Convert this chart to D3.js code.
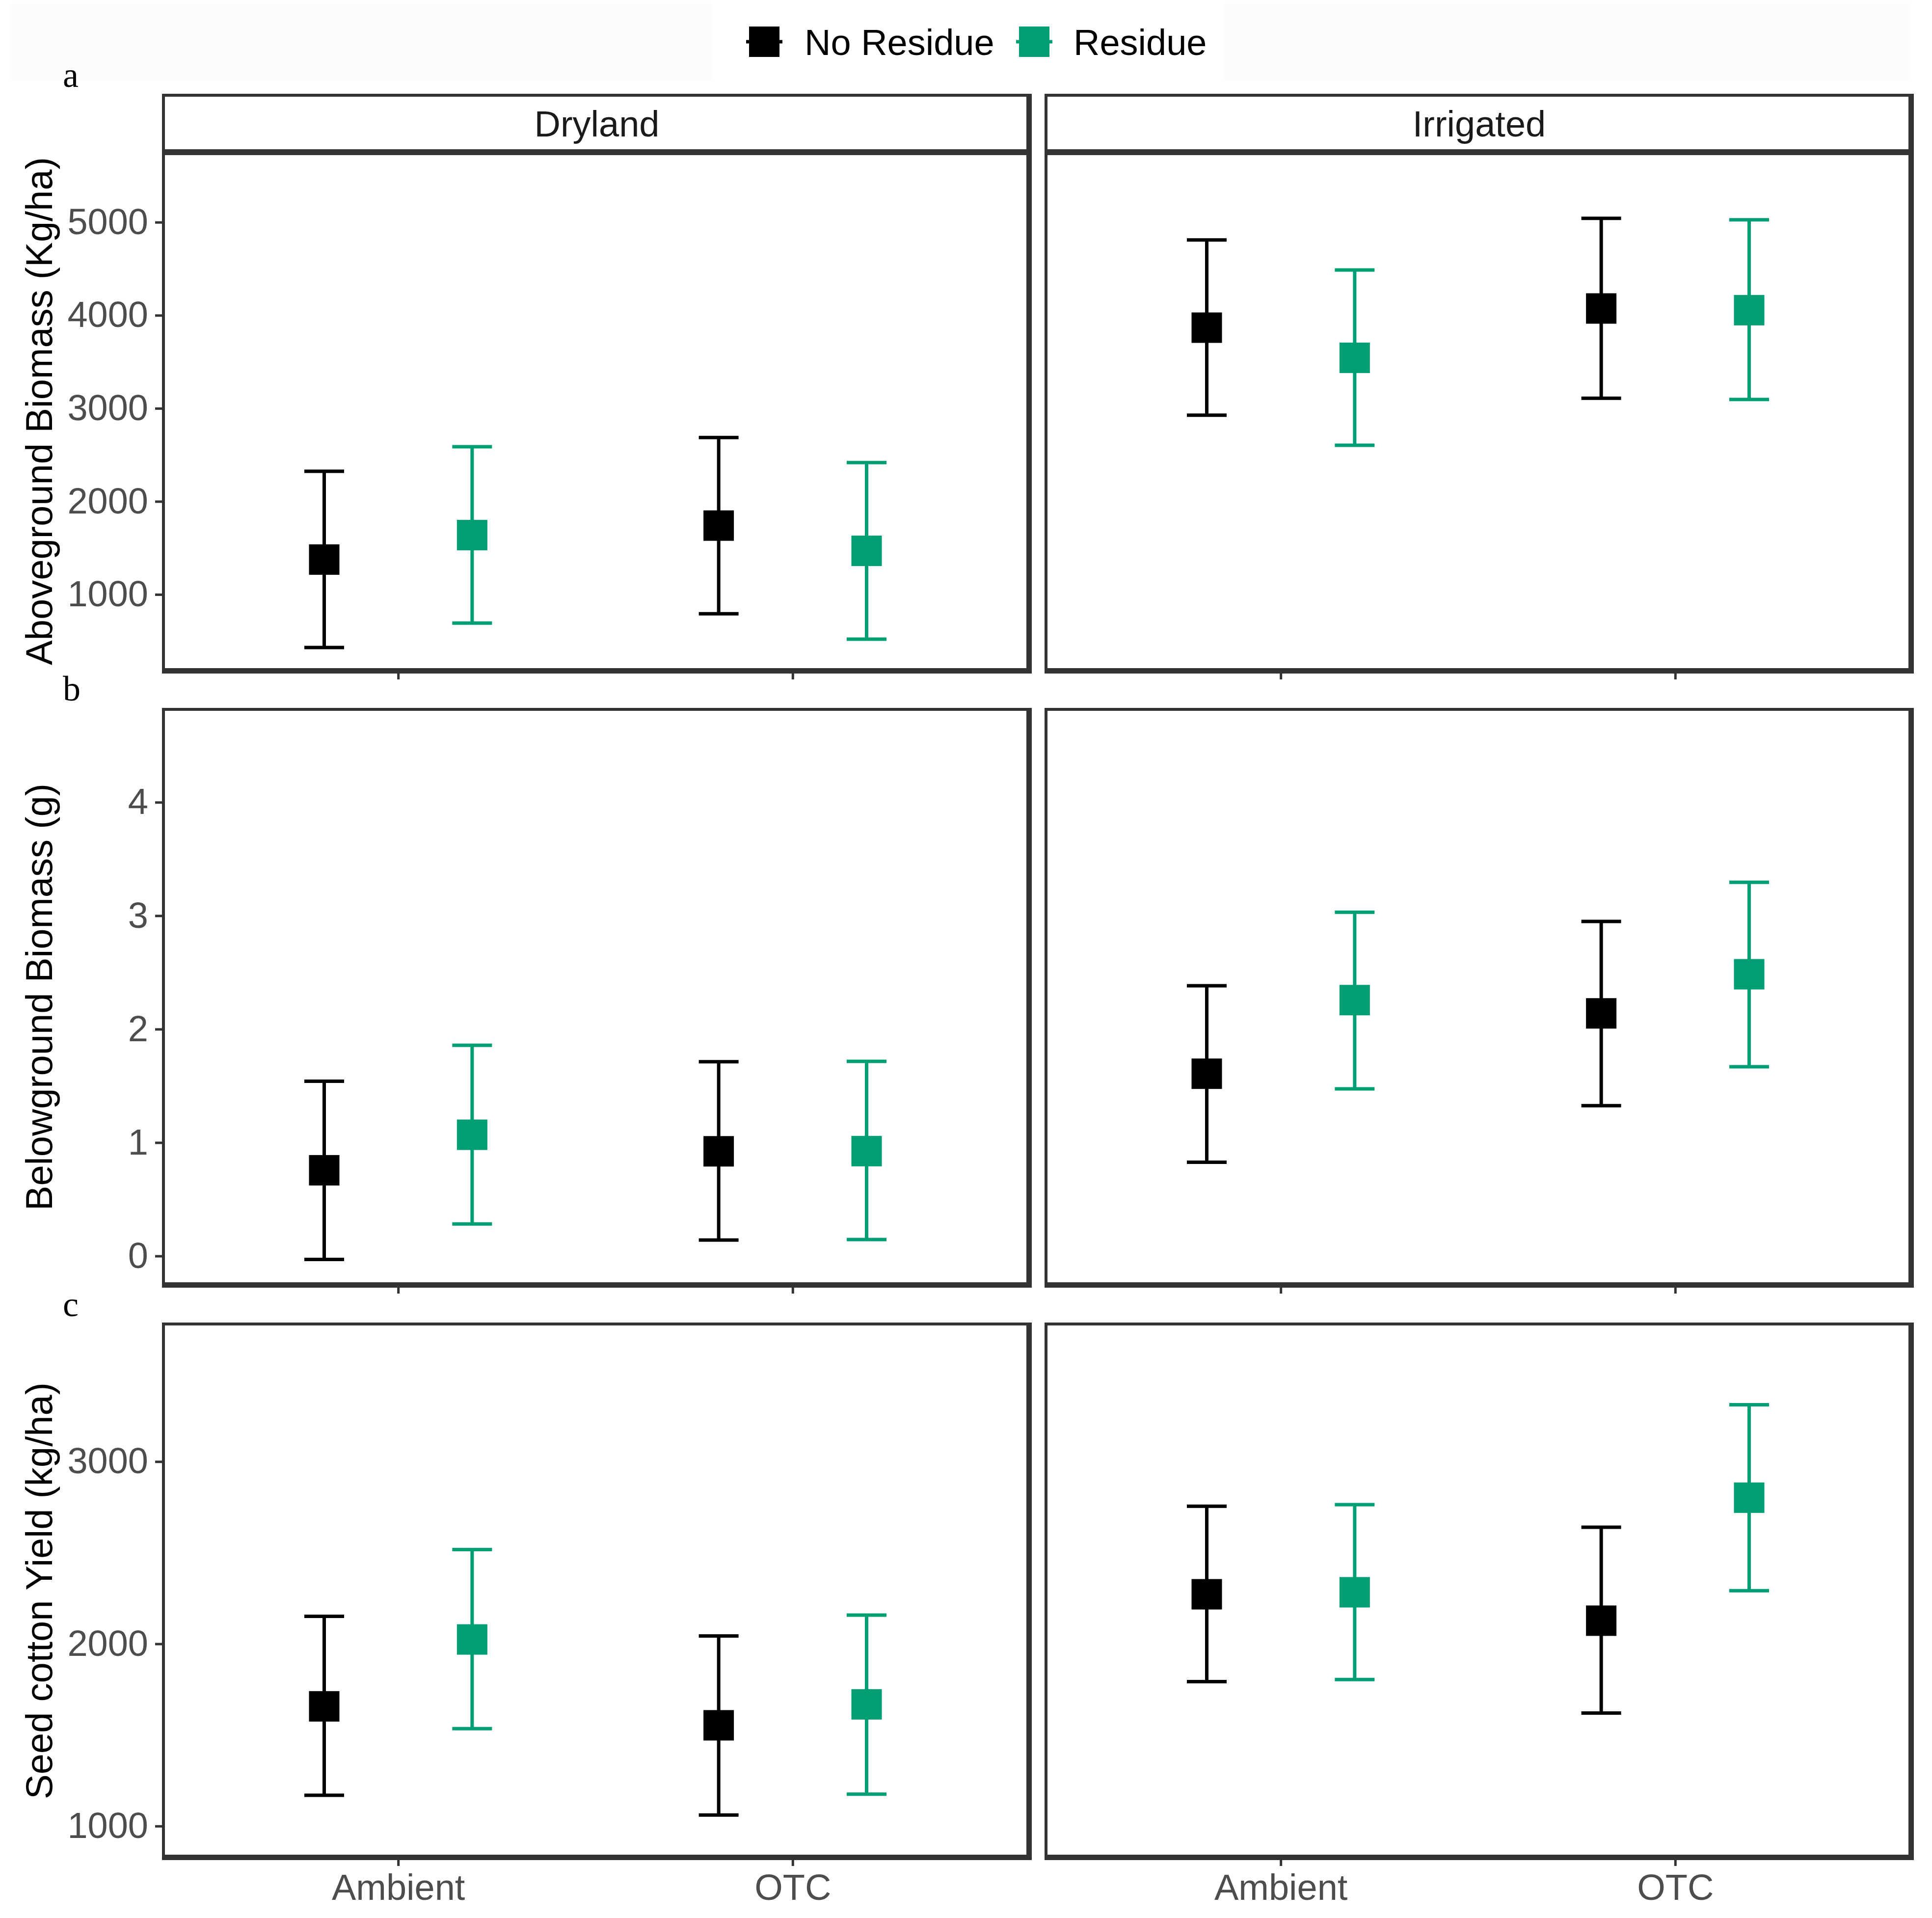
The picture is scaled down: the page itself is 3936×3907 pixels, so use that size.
<!DOCTYPE html>
<html><head><meta charset="utf-8">
<script src="https://cdn.jsdelivr.net/npm/d3@7"></script>
<style>body{margin:0;background:#fff} svg{display:block}</style>
</head><body><svg id="chart" width="3936" height="3907"></svg>
<script>
// ---------------- data ----------------
const facets = ["Dryland", "Irrigated"];
const treatments = ["Ambient", "OTC"];
const residues = ["No Residue", "Residue"];
const residueColors = ["#000000", "#009E73"];
const panelLetters = ["a", "b", "c"];
const yTitles = ["Aboveground Biomass (Kg/ha)", "Belowground Biomass (g)", "Seed cotton Yield (kg/ha)"];

// order: Dry-Amb-NoRes, Dry-Amb-Res, Dry-OTC-NoRes, Dry-OTC-Res, Irr-Amb-NoRes, Irr-Amb-Res, Irr-OTC-NoRes, Irr-OTC-Res
const aboveMean  = [1375, 1638, 1740, 1469, 3867, 3543, 4073, 4055];
const aboveLower = [430, 693, 793, 519, 2926, 2604, 3108, 3095];
const aboveUpper = [2324, 2588, 2687, 2418, 4810, 4487, 5042, 5026];
const aboveTicks = [1000, 2000, 3000, 4000, 5000];
const aboveLimits = [182, 5758];

const belowMean  = [0.756, 1.069, 0.923, 0.925, 1.607, 2.256, 2.139, 2.484];
const belowLower = [-0.030, 0.283, 0.141, 0.145, 0.827, 1.474, 1.326, 1.668];
const belowUpper = [1.541, 1.858, 1.713, 1.716, 2.383, 3.031, 2.949, 3.295];
const belowTicks = [0, 1, 2, 3, 4];
const belowLimits = [-0.253, 4.819];

const yieldMean  = [1657, 2024, 1553, 1668, 2272, 2283, 2127, 2802];
const yieldLower = [1169, 1535, 1061, 1175, 1793, 1804, 1620, 2292];
const yieldUpper = [2151, 2517, 2043, 2158, 2755, 2764, 2640, 3312];
const yieldTicks = [1000, 2000, 3000];
const yieldLimits = [827, 3755];

// ---------------- layout ----------------
const FONT = "'Liberation Sans', Arial, Helvetica, sans-serif";
const FS = 74;
const BORDER = "#333333";
const colOuter = [[330, 2102], [2128, 3899]];     // outer edges of panel frames
const colRange = [[329, 2097], [2127, 3895]];     // x-scale range for [0.4, 2.6]
const rowsLayout = [
  {top: 309, bottom: 1366, outerTop: 310, outerBottom: 1372, strip: [191, 316]},
  {top: 1445, bottom: 2617, outerTop: 1442, outerBottom: 2623},
  {top: 2697, bottom: 3784, outerTop: 2694, outerBottom: 3789}
];
const letterBaselines = [177, 1427, 2681];
const dodge = 0.1875, capHalf = 0.0504, pointSize = 62;
const TL = 6, BR = 11; // frame thickness: top/left, bottom/right

const rowsData = [
  {mean: aboveMean, lower: aboveLower, upper: aboveUpper, ticks: aboveTicks, limits: aboveLimits},
  {mean: belowMean, lower: belowLower, upper: belowUpper, ticks: belowTicks, limits: belowLimits},
  {mean: yieldMean, lower: yieldLower, upper: yieldUpper, ticks: yieldTicks, limits: yieldLimits}
];

const svg = d3.select("#chart");
svg.append("rect").attr("width", 3936).attr("height", 3907).attr("fill", "#fff");

// faint background of the legend band
svg.append("rect").attr("x", 20).attr("y", 7).attr("width", 1431).attr("height", 155).attr("fill", "#fcfcfc");
svg.append("rect").attr("x", 2493).attr("y", 7).attr("width", 1400).attr("height", 155).attr("fill", "#fcfcfc");

function frame(g, x0, x1, y0, y1, bottomT) {
  const b = bottomT || BR;
  g.append("rect").attr("x", x0).attr("y", y0).attr("width", x1 - x0).attr("height", TL).attr("fill", BORDER);
  g.append("rect").attr("x", x0).attr("y", y1 - b).attr("width", x1 - x0).attr("height", b).attr("fill", BORDER);
  g.append("rect").attr("x", x0).attr("y", y0).attr("width", TL).attr("height", y1 - y0).attr("fill", BORDER);
  g.append("rect").attr("x", x1 - BR).attr("y", y0).attr("width", BR).attr("height", y1 - y0).attr("fill", BORDER);
}

// legend
const legendKeys = [{cx: 1557, tx: 1639}, {cx: 2107, tx: 2187}];
residues.forEach((r, i) => {
  const g = svg.append("g");
  g.append("line").attr("x1", legendKeys[i].cx - 37).attr("x2", legendKeys[i].cx + 37)
    .attr("y1", 85).attr("y2", 85).attr("stroke", residueColors[i]).attr("stroke-width", 7);
  g.append("rect").attr("x", legendKeys[i].cx - pointSize / 2).attr("y", 85 - pointSize / 2)
    .attr("width", pointSize).attr("height", pointSize).attr("fill", residueColors[i]);
  g.append("text").attr("x", legendKeys[i].tx).attr("y", 112).text(r)
    .attr("font-family", FONT).attr("font-size", FS).attr("fill", "#000");
});

rowsData.forEach((rd, ri) => {
  const L = rowsLayout[ri];
  const y = d3.scaleLinear().domain(rd.limits).range([L.bottom, L.top]);
  const points = rd.mean.map((m, i) => ({
    facet: Math.floor(i / 4), treat: Math.floor(i / 2) % 2, res: i % 2,
    mean: m, lower: rd.lower[i], upper: rd.upper[i]
  }));

  // panel letter
  svg.append("text").attr("x", 128).attr("y", letterBaselines[ri]).text(panelLetters[ri])
    .attr("font-family", "'Liberation Serif', 'Times New Roman', serif").attr("font-size", 72).attr("fill", "#000");

  // y title
  svg.append("text")
    .attr("transform", `translate(106,${(L.top + L.bottom) / 2}) rotate(-90)`)
    .attr("text-anchor", "middle").text(yTitles[ri])
    .attr("font-family", FONT).attr("font-size", 76).attr("fill", "#000");

  facets.forEach((f, fi) => {
    const [o0, o1] = colOuter[fi];
    const x = d3.scaleLinear().domain([0.4, 2.6]).range(colRange[fi]);
    const g = svg.append("g");

    // strip
    if (L.strip) {
      g.append("text").attr("x", (o0 + o1) / 2).attr("y", 278).attr("text-anchor", "middle").text(f)
        .attr("font-family", FONT).attr("font-size", FS).attr("fill", "#1a1a1a");
      frame(g, o0, o1, L.strip[0], L.strip[1], 12);
    }

    const pts = points.filter(p => p.facet === fi);
    const px = p => x(p.treat + 1 + (p.res === 0 ? -dodge : dodge));
    const cw = x(1 + capHalf) - x(1);
    const eb = g.append("g").selectAll("g").data(pts).join("g")
      .attr("stroke", p => residueColors[p.res]).attr("stroke-width", 7);
    eb.append("line").attr("x1", px).attr("x2", px).attr("y1", p => y(p.lower)).attr("y2", p => y(p.upper));
    eb.append("line").attr("x1", p => px(p) - cw).attr("x2", p => px(p) + cw)
      .attr("y1", p => y(p.upper)).attr("y2", p => y(p.upper));
    eb.append("line").attr("x1", p => px(p) - cw).attr("x2", p => px(p) + cw)
      .attr("y1", p => y(p.lower)).attr("y2", p => y(p.lower));
    g.append("g").selectAll("rect").data(pts).join("rect")
      .attr("x", p => px(p) - pointSize / 2).attr("y", p => y(p.mean) - pointSize / 2)
      .attr("width", pointSize).attr("height", pointSize).attr("fill", p => residueColors[p.res]);

    // x axis
    const xa = d3.axisBottom(x).tickValues([1, 2]).tickSize(12).tickPadding(16)
      .tickFormat(ri === 2 ? (d => treatments[d - 1]) : (() => ""));
    const xg = g.append("g").attr("transform", `translate(0,${L.outerBottom})`).call(xa);
    xg.select(".domain").remove();
    xg.selectAll("line").attr("stroke", BORDER).attr("stroke-width", 5);
    xg.selectAll("text").attr("font-family", FONT).attr("font-size", FS).attr("fill", "#4d4d4d");

    // y axis (left column only)
    if (fi === 0) {
      const ya = d3.axisLeft(y).tickValues(rd.ticks).tickSize(14).tickPadding(14).tickFormat(d3.format("d"));
      const yg = g.append("g").attr("transform", `translate(${o0},0)`).call(ya);
      yg.select(".domain").remove();
      yg.selectAll("line").attr("stroke", BORDER).attr("stroke-width", 5);
      yg.selectAll("text").attr("font-family", FONT).attr("font-size", FS).attr("fill", "#4d4d4d");
    }

    // panel frame on top
    frame(g, o0, o1, L.outerTop, L.outerBottom);
  });
});
</script>
</body></html>
